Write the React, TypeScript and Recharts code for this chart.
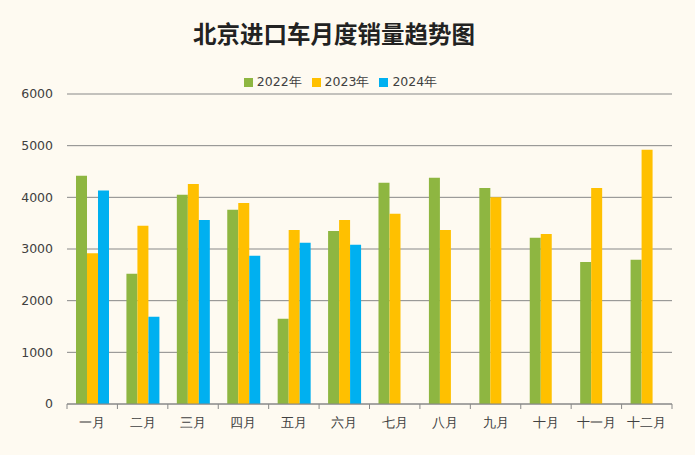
import { Bar, BarChart, CartesianGrid, Legend, XAxis, YAxis } from "recharts";

const months = ["一月", "二月", "三月", "四月", "五月", "六月", "七月", "八月", "九月", "十月", "十一月", "十二月"];
const sales2022 = [4420, 2520, 4050, 3760, 1650, 3350, 4280, 4380, 4180, 3220, 2750, 2790];
const sales2023 = [2920, 3450, 4260, 3890, 3370, 3560, 3680, 3370, 4000, 3290, 4180, 4920];
const sales2024: (number | null)[] = [4130, 1690, 3560, 2870, 3120, 3080, null, null, null, null, null, null];
const yTicks = [0, 1000, 2000, 3000, 4000, 5000, 6000];

const W = 695;
const H = 455;
const X_AXIS_H = 30;
const M = { top: 94, right: 23, bottom: 51 - X_AXIS_H, left: 0 };
const Y_AXIS_W = 67;
const BAND = (W - M.right - Y_AXIS_W) / months.length;

const FONT = "'DejaVu Sans', Verdana, sans-serif";
const BG = "#fefaf1";
const AXIS = "#888888";

const data = months.map((m, i) => ({
  month: m,
  y2022: sales2022[i],
  y2023: sales2023[i],
  y2024: sales2024[i],
}));

function MonthTick(props: any) {
  const { x, y, payload, index } = props;
  const top = y - 8;
  return (
    <g>
      <line x1={x - BAND / 2} x2={x - BAND / 2} y1={top} y2={top + 5} stroke={AXIS} />
      {index === months.length - 1 && (
        <line x1={x + BAND / 2} x2={x + BAND / 2} y1={top} y2={top + 5} stroke={AXIS} />
      )}
      <text x={x} y={y + 15} textAnchor="middle" fontSize={12.5} fill="#404040" fontFamily={FONT}>
        {payload.value}
      </text>
    </g>
  );
}

export default function App() {
  return (
    <div style={{ position: "absolute", left: 0, top: 0, width: W, height: H, background: BG }}>
      <div
        style={{
          position: "absolute",
          top: 18,
          left: 190,
          width: 288,
          textAlign: "center",
          fontFamily: "'Noto Sans CJK SC', sans-serif",
          fontWeight: 700,
          fontSize: 23.5,
          color: "#222",
          lineHeight: "30px",
          whiteSpace: "nowrap",
        }}
      >
        北京进口车月度销量趋势图
      </div>
      <BarChart width={W} height={H} data={data} margin={M} barGap={0} barSize={11}>
        <CartesianGrid vertical={false} stroke={AXIS} />
        <XAxis
          dataKey="month"
          height={X_AXIS_H}
          tickLine={false}
          axisLine={{ stroke: AXIS }}
          interval={0}
          tick={<MonthTick />}
        />
        <YAxis
          width={Y_AXIS_W}
          domain={[0, 6000]}
          ticks={yTicks}
          axisLine={false}
          tickLine={false}
          tickMargin={8}
          tick={{ fontSize: 12.5, fill: "#404040", fontFamily: FONT }}
        />
        <Legend
          verticalAlign="middle"
          align="center"
          layout="horizontal"
          iconType="square"
          iconSize={9}
          wrapperStyle={{ top: 74, left: 0, width: W - 4, fontFamily: FONT, fontSize: 12.5 }}
          formatter={(v) => <span style={{ color: "#404040" }}>{v}</span>}
        />
        <Bar dataKey="y2022" name="2022年" fill="#8eb641" isAnimationActive={false} />
        <Bar dataKey="y2023" name="2023年" fill="#ffc000" isAnimationActive={false} />
        <Bar dataKey="y2024" name="2024年" fill="#00b0f0" isAnimationActive={false} />
      </BarChart>
    </div>
  );
}
